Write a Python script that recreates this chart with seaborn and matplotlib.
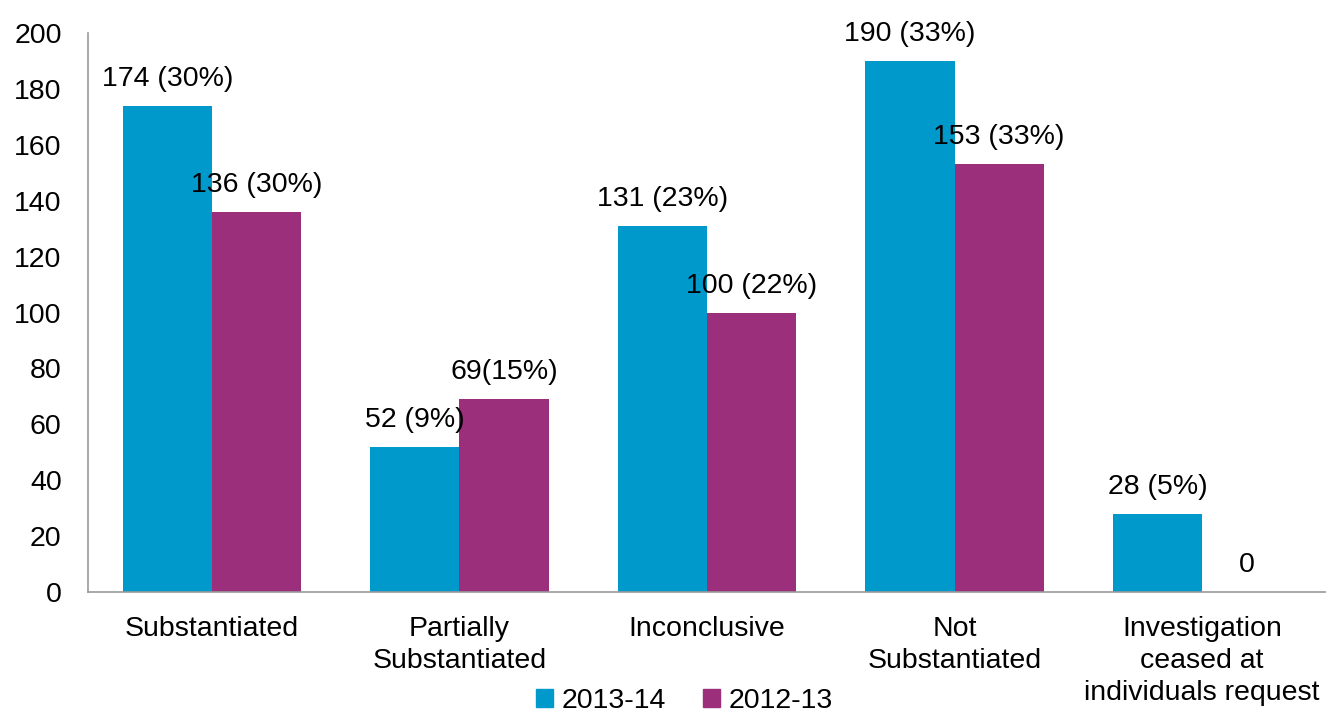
import pandas as pd
import seaborn as sns
import matplotlib.pyplot as plt

# datos
categorias = ['Substantiated', 'Partially\nSubstantiated', 'Inconclusive',
              'Not\nSubstantiated', 'Investigation\nceased at\nindividuals request']
anios = ['2013-14', '2012-13']
valores_1314 = [174, 52, 131, 190, 28]
valores_1213 = [136, 69, 100, 153, 0]
etiquetas_1314 = ['174 (30%)', '52 (9%)', '131 (23%)', '190 (33%)', '28 (5%)']
etiquetas_1213 = ['136 (30%)', '69(15%)', '100 (22%)', '153 (33%)', '0']
colores = ['#0099CC', '#9B2F7B']

df = pd.DataFrame({
    'Categoria': categorias * 2,
    'Anio': [anios[0]] * 5 + [anios[1]] * 5,
    'Valor': valores_1314 + valores_1213,
})

sns.set_style('white')
plt.rcParams['font.family'] = ['Liberation Sans', 'DejaVu Sans']
plt.rcParams['text.color'] = 'black'
plt.rcParams['xtick.color'] = 'black'
plt.rcParams['ytick.color'] = 'black'
fs = 20.5

fig = plt.figure(figsize=(13.26, 7.13), dpi=100)
ax = fig.add_axes([0.0664, 0.1697, 0.9336, 0.784])
sns.barplot(data=df, x='Categoria', y='Valor', hue='Anio', palette=colores,
            saturation=1, width=0.72, linewidth=0, ax=ax, legend=True)

for cont, labs in zip(ax.containers, [etiquetas_1314, etiquetas_1213]):
    ax.bar_label(cont, labels=labs, padding=10, fontsize=fs, color='black')

ax.set_ylim(0, 200)
ax.set_yticks(range(0, 201, 20))
ax.set_xlim(-0.5, 4.5)
ax.set_xticks(range(len(categorias)))
ax.set_xticklabels(categorias, linespacing=1.32)
ax.set_xlabel('')
ax.set_ylabel('')
ax.tick_params(axis='both', labelsize=fs, length=0)
ax.tick_params(axis='y', pad=19)
ax.tick_params(axis='x', pad=17)
for s in ['top', 'right']:
    ax.spines[s].set_visible(False)
for s in ['left', 'bottom']:
    ax.spines[s].set_color('#999999')
    ax.spines[s].set_linewidth(1.2)

ax.get_legend().remove()
handles = [plt.Rectangle((0, 0), 1, 1, color=c) for c in colores]
fig.legend(handles, anios, loc='lower center', bbox_to_anchor=(0.516, -0.038), ncol=2,
           frameon=False, fontsize=fs, handlelength=0.6, handleheight=0.6,
           handletextpad=0.3, columnspacing=1.3)

fig.savefig('out.png', dpi=100)
